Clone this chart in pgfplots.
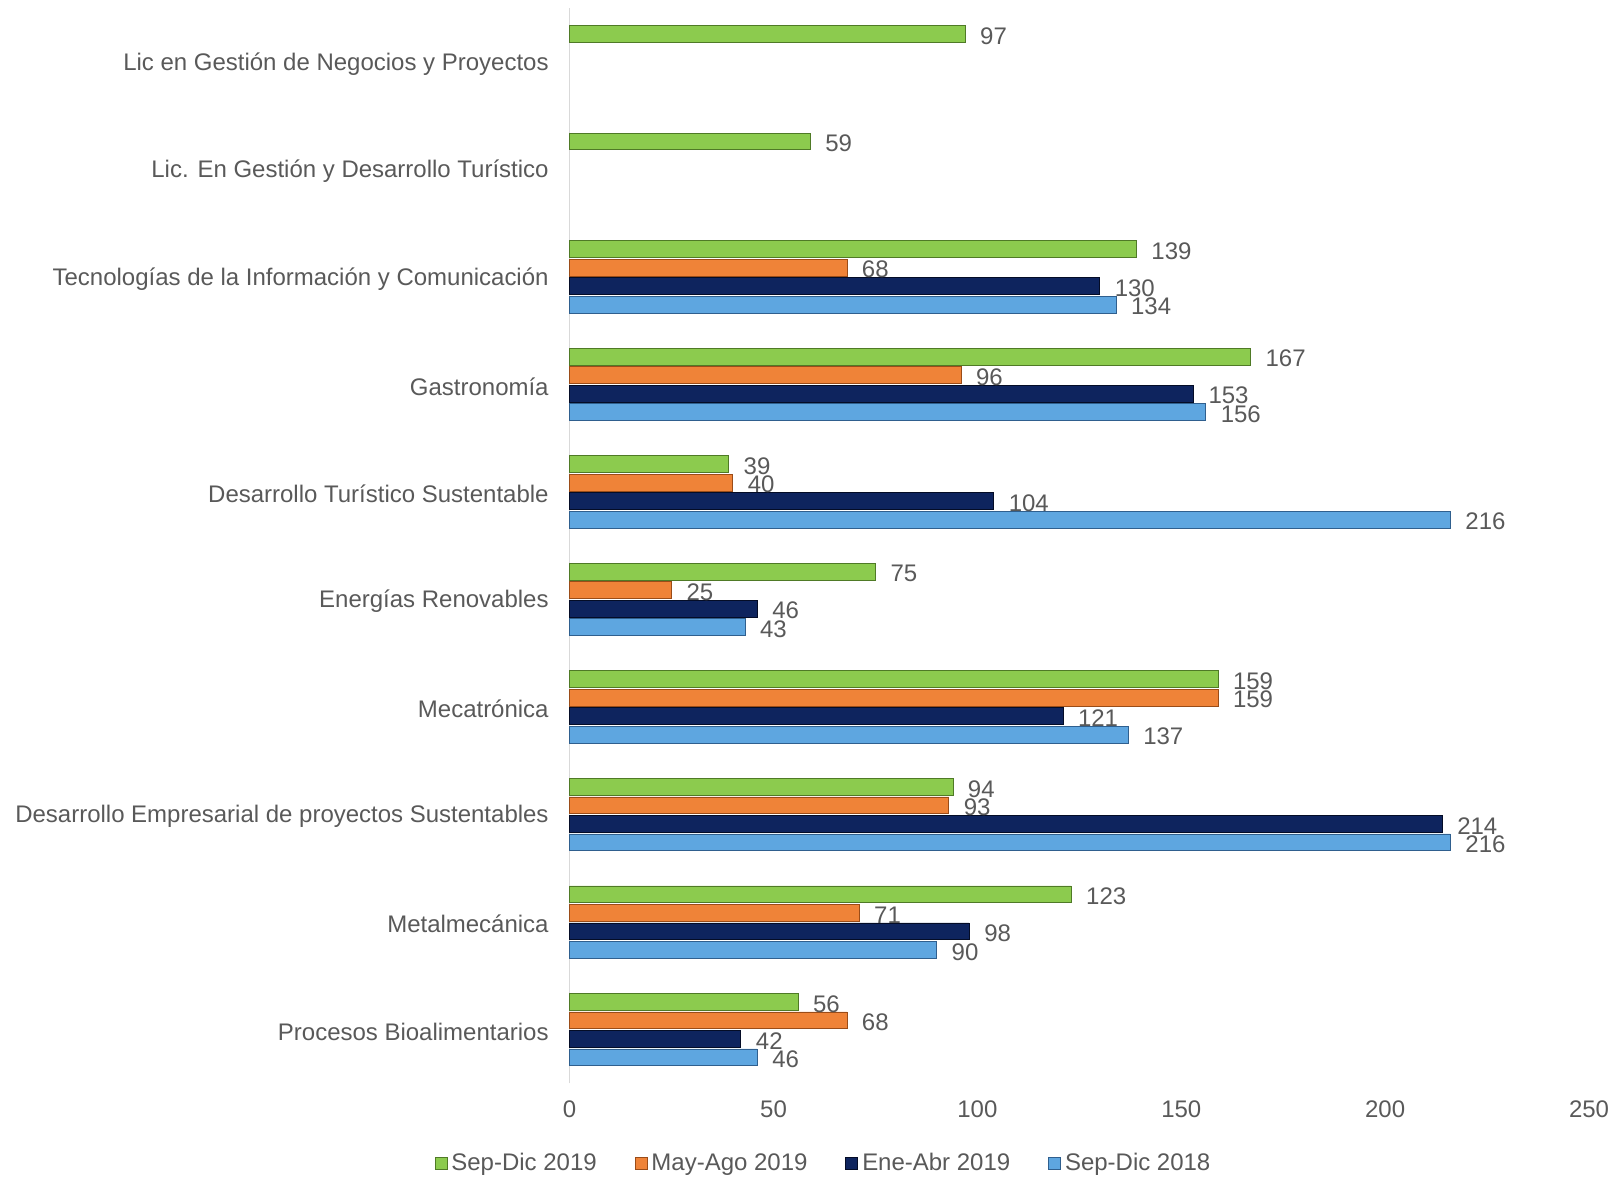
\documentclass[border=0pt]{standalone}
\usepackage{fontspec}
\setmainfont{Liberation Sans}
\usepackage{pgfplots}
\pgfplotsset{compat=1.18}
\definecolor{txt}{HTML}{595959}
\definecolor{gB}{HTML}{8CCB4E}\definecolor{gC}{HTML}{4F7A26}
\definecolor{oB}{HTML}{EF8338}\definecolor{oC}{HTML}{9A4C18}
\definecolor{nB}{HTML}{0E245E}\definecolor{nC}{HTML}{040C26}
\definecolor{bB}{HTML}{5EA6E0}\definecolor{bC}{HTML}{2F5F8E}
\begin{document}
\begin{tikzpicture}[font=\fontsize{12}{14}\selectfont]
\begin{axis}[
  scale only axis, width=510pt, height=538pt,
  xbar, bar width=0.155,
  xmin=0, xmax=250, ymin=-0.5, ymax=9.5,
  xtick={0,50,...,250},
  ytick={0,...,9},
  yticklabels={Procesos Bioalimentarios, Metalmecánica, Desarrollo Empresarial de proyectos Sustentables, Mecatrónica, Energías Renovables, Desarrollo Turístico Sustentable, Gastronomía, Tecnologías de la Información y Comunicación, Lic. En Gestión y Desarrollo Turístico, Lic en Gestión de Negocios y Proyectos},
  axis x line*=bottom,
  axis y line*=left,
  x axis line style={draw=none},
  y axis line style={draw=black!15, line width=0.8pt, -},
  major tick length=0pt,
  tick style={draw=none},
  xticklabel style={text=txt, yshift=-5pt},
  yticklabel style={text=txt, xshift=-7pt, yshift=-1pt},
  /pgf/number format/assume math mode=true,
  clip=false,
  nodes near coords,
  nodes near coords style={anchor=west, text=txt, xshift=4pt, yshift=-1pt, font=\fontsize{12}{14}\selectfont},
  legend style={draw=none, at={(0.25,-0.0745)}, anchor=center, legend columns=4, text=txt,
     /tikz/every even column/.append style={column sep=17pt}, font=\fontsize{12}{14}\selectfont},
  legend cell align=left,
  legend image code/.code={\fill[#1] (0pt,-3pt) rectangle (6pt,3pt);},
]
\addplot[bar shift=0.258, draw=gC, line width=0.4pt, fill=gB] coordinates {(56,0) (123,1) (94,2) (159,3) (75,4) (39,5) (167,6) (139,7) (59,8) (97,9)};
\addplot[bar shift=0.086, draw=oC, line width=0.4pt, fill=oB] coordinates {(68,0) (71,1) (93,2) (159,3) (25,4) (40,5) (96,6) (68,7)};
\addplot[bar shift=-0.086, draw=nC, line width=0.4pt, fill=nB] coordinates {(42,0) (98,1) (214,2) (121,3) (46,4) (104,5) (153,6) (130,7)};
\addplot[bar shift=-0.258, draw=bC, line width=0.4pt, fill=bB] coordinates {(46,0) (90,1) (216,2) (137,3) (43,4) (216,5) (156,6) (134,7)};
\legend{Sep-Dic 2019, May-Ago 2019, Ene-Abr 2019, Sep-Dic 2018}
\end{axis}
\pgfresetboundingbox
\path[use as bounding box] (-285pt,-46.5pt) rectangle (523.5pt,542pt);
\end{tikzpicture}
\end{document}
